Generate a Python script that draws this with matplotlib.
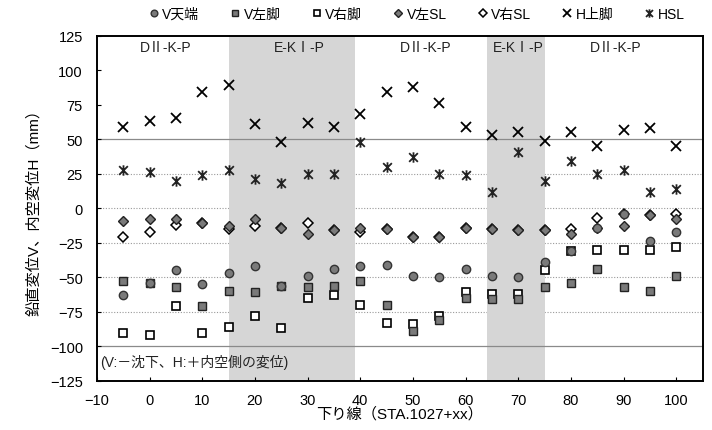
import matplotlib
matplotlib.use("Agg")
import matplotlib.pyplot as plt
from matplotlib.path import Path

plt.rcParams['font.family'] = ['Liberation Sans', 'Noto Sans CJK JP', 'DejaVu Sans']

# station offsets (STA.1027+xx)
sta = [-5, 0, 5, 10, 15, 20, 25, 30, 35, 40, 45, 50, 55, 60, 65, 70, 75, 80, 85, 90, 95, 100]

# displacements (mm)
v_crown = [-63, -54, -45, -55, -47, -42, -56, -49, -44, -42, -41, -49, -50, -44, -49, -50, -39, -31, -14, -4, -24, -17]
v_left_leg = [-53, -54, -57, -71, -60, -61, -56, -57, -56, -53, -70, -89, -81, -65, -66, -66, -57, -54, -44, -57, -60, -49]
v_right_leg = [-90, -92, -71, -90, -86, -78, -87, -65, -63, -70, -83, -84, -78, -61, -62, -62, -45, -31, -30, -30, -30, -28]
v_left_sl = [-9, -8, -8, -11, -13, -8, -14, -19, -16, -14, -15, -21, -21, -14, -15, -16, -16, -19, -14, -13, -5, -8]
v_right_sl = [-21, -17, -12, -11, -15, -13, -14, -11, -16, -17, -15, -21, -21, -14, -15, -16, -16, -15, -7, -4, -5, -4]
h_upper = [59, 63, 65, 84, 89, 61, 48, 62, 59, 68, 84, 88, 76, 59, 53, 55, 49, 55, 45, 57, 58, 45]
h_sl = [28, 26, 20, 24, 28, 21, 18, 25, 25, 48, 30, 37, 25, 24, 12, 41, 20, 34, 25, 28, 12, 14]

# support pattern zones
zones = [(15, 39), (64, 75)]
zone_labels = [(3, "DⅡ-K-P"), (28.5, "E-KⅠ-P"), (52.5, "DⅡ-K-P"), (70, "E-KⅠ-P"), (88.5, "DⅡ-K-P")]

# "x with a vertical bar" marker for HSL
star_x = Path([(-1, -1), (1, 1), (-1, 1), (1, -1), (0, -1.2), (0, 1.2)],
              [Path.MOVETO, Path.LINETO, Path.MOVETO, Path.LINETO, Path.MOVETO, Path.LINETO])

fig = plt.figure(figsize=(7.12, 4.31), dpi=100)
ax = fig.add_axes([0.136, 0.114, 0.851, 0.801])

ax.set_xlim(-10, 105)
ax.set_ylim(-125, 125)

# grid lines
for y in [25, 0, -25, -50, -75]:
    ax.axhline(y, color="#9a9a9a", lw=0.8, ls=(0, (1, 1.5)), zorder=0)
for y in [50, -100]:
    ax.axhline(y, color="#8a8a8a", lw=0.9, zorder=1.5)

# shaded zones
for x0, x1 in zones:
    ax.axvspan(x0, x1, color="#d6d6d6", lw=0, zorder=1)

for xt, txt in zone_labels:
    ax.text(xt, 117, txt, ha="center", va="center", fontsize=10, color="#222222", zorder=5)

ax.text(-9.3, -111, "(V:－沈下、H:＋内空側の変位)", ha="left", va="center",
        fontsize=10, color="#222222", zorder=5)

ms = 5.5
ax.plot(sta, v_right_sl, ls="none", marker="D", ms=4.8, mfc="white", mec="black", mew=1.1,
        label="V右SL", zorder=3)
ax.plot(sta, v_left_sl, ls="none", marker="D", ms=4.8, mfc="#7a7a7a", mec="#222222", mew=1.0,
        label="V左SL", zorder=3.2)
ax.plot(sta, v_right_leg, ls="none", marker="s", ms=ms, mfc="white", mec="black", mew=1.2,
        label="V右脚", zorder=3.4)
ax.plot(sta, v_left_leg, ls="none", marker="s", ms=ms, mfc="#7a7a7a", mec="#222222", mew=1.0,
        label="V左脚", zorder=3.6)
ax.plot(sta, v_crown, ls="none", marker="o", ms=6, mfc="#7a7a7a", mec="#333333", mew=1.0,
        label="V天端", zorder=3.8)
ax.plot(sta, h_upper, ls="none", marker="x", ms=7.5, mec="black", mew=1.3,
        label="H上脚", zorder=4)
ax.plot(sta, h_sl, ls="none", marker=star_x, ms=7.5, mec="#222222", mew=1.3,
        label="HSL", zorder=4)

ax.set_xticks([-10, 0, 10, 20, 30, 40, 50, 60, 70, 80, 90, 100])
ax.set_yticks([125, 100, 75, 50, 25, 0, -25, -50, -75, -100, -125])
ax.tick_params(axis="both", direction="in", length=3, labelsize=10.5, pad=9, colors="black")
ax.tick_params(axis="y", pad=10)

for sp in ax.spines.values():
    sp.set_linewidth(1.4)
    sp.set_color("black")

ax.set_xlabel("下り線（STA.1027+xx）", fontsize=11, labelpad=-1)
ax.set_ylabel("鉛直変位V、内空変位H（mm）", fontsize=11, labelpad=6)

handles, labels = ax.get_legend_handles_labels()
order = ["V天端", "V左脚", "V右脚", "V左SL", "V右SL", "H上脚", "HSL"]
hmap = dict(zip(labels, handles))
fig.legend([hmap[k] for k in order], order, loc="center", bbox_to_anchor=(0.585, 0.966),
           ncol=7, frameon=False, fontsize=10, handlelength=0.8, handletextpad=0.2,
           columnspacing=2.2, markerscale=0.8)

fig.savefig("out.png", dpi=100)
